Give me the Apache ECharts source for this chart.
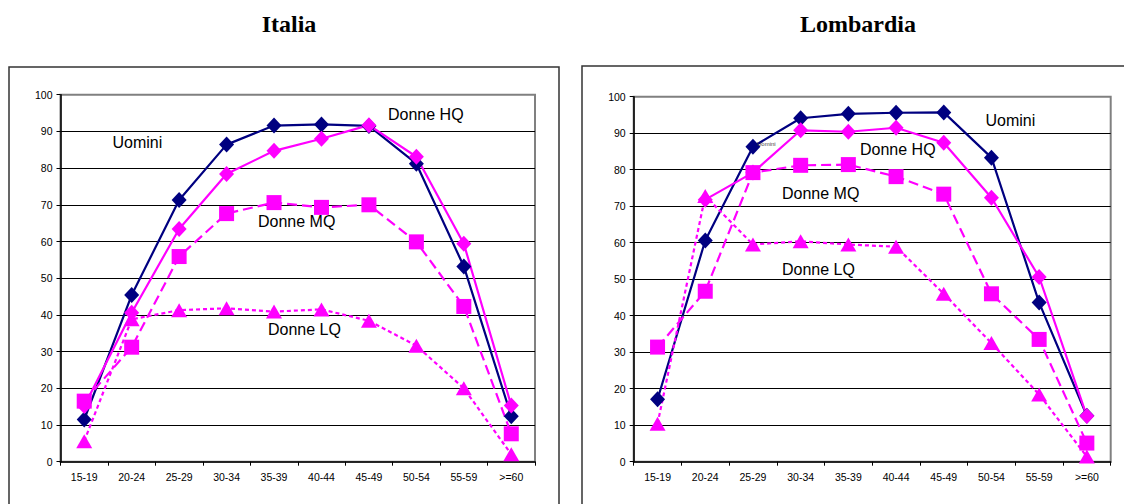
<!DOCTYPE html>
<html>
<head>
<meta charset="utf-8">
<script src="https://cdn.jsdelivr.net/npm/echarts@6/dist/echarts.min.js"></script>
<style>
  html, body { margin: 0; padding: 0; background: #fff; }
  #chart { width: 1124px; height: 504px; }
</style>
</head>
<body>
<div id="chart"></div>
<script>
// Age classes on the horizontal axis
const categories = ['15-19', '20-24', '25-29', '30-34', '35-39', '40-44', '45-49', '50-54', '55-59', '>=60'];

// Italia (%)
const italiaUomini = [11.5, 45.4, 71.3, 86.4, 91.6, 91.9, 91.5, 81.2, 53.2, 12.4];
const italiaDonneHQ = [15.2, 40.6, 63.4, 78.4, 84.7, 88.0, 91.7, 83.1, 59.4, 15.3];
const italiaDonneMQ = [16.5, 31.2, 55.9, 67.6, 70.6, 69.3, 70.0, 59.9, 42.3, 7.6];
const italiaDonneLQ = [5.6, 38.8, 41.3, 41.8, 40.9, 41.5, 38.4, 31.6, 20.0, 2.0];

// Lombardia (%)
const lombardiaUomini = [17.1, 60.6, 86.3, 94.1, 95.3, 95.6, 95.7, 83.3, 43.6, 12.6];
const lombardiaDonneHQ = [null, 71.8, 79.2, 90.8, 90.4, 91.5, 87.4, 72.3, 50.6, 12.5];
const lombardiaDonneMQ = [31.4, 46.7, 79.2, 81.2, 81.4, 78.1, 73.3, 46.0, 33.5, 5.1];
const lombardiaDonneLQ = [10.4, 72.8, 59.5, 60.4, 59.5, 58.9, 46.0, 32.5, 18.4, 1.4];

// Value axis ticks
const yMin = 0, yMax = 100, yStep = 10;

const NAVY = '#000080';
const MAGENTA = '#FF00FF';
const SANS = 'Liberation Sans, Arial, sans-serif';
const SERIF = 'Liberation Serif, Times New Roman, serif';

function xAxisFor(gridIndex) {
  return {
    type: 'category', gridIndex, data: categories, boundaryGap: true,
    axisLine: { show: true, lineStyle: { color: '#000', width: 1.5 } },
    axisTick: { show: true, length: 4, lineStyle: { color: '#000', width: 1 } },
    axisLabel: { color: '#000', fontSize: 10.5, fontFamily: SANS, margin: 10, interval: 0 },
    splitLine: { show: false }
  };
}
function yAxisFor(gridIndex) {
  return {
    type: 'value', gridIndex, min: yMin, max: yMax, interval: yStep,
    axisLine: { show: true, lineStyle: { color: '#000', width: 1.5 } },
    axisTick: { show: true, length: 4, lineStyle: { color: '#000', width: 1 } },
    axisLabel: { color: '#000', fontSize: 10.5, fontFamily: SANS, margin: 8 },
    splitLine: { show: true, showMinLine: false, showMaxLine: false, lineStyle: { color: '#000', width: 1 } }
  };
}

function lineSeries(name, data, idx, color, lineType, symbol, symbolSize) {
  return {
    name, type: 'line', data, xAxisIndex: idx, yAxisIndex: idx,
    symbol, symbolSize, showAllSymbol: true, connectNulls: false,
    lineStyle: { color, width: 2.2, type: lineType },
    itemStyle: { color, borderWidth: 0 },
    emphasis: { disabled: true }
  };
}

function seriesFor(idx, uomini, hq, mq, lq) {
  return [
    lineSeries('Uomini', uomini, idx, NAVY, 'solid', 'diamond', [15, 16]),
    lineSeries('Donne HQ', hq, idx, MAGENTA, 'solid', 'diamond', [15, 16]),
    lineSeries('Donne MQ', mq, idx, MAGENTA, [10, 5], 'rect', 15),
    lineSeries('Donne LQ', lq, idx, MAGENTA, [4, 3], 'triangle', [16, 14])
  ];
}

function label(text, x, y, size, color) {
  return {
    type: 'text', x, y, z: 100,
    style: { text, fill: color || '#000', font: (size || 16) + 'px ' + SANS, textVerticalAlign: 'middle' }
  };
}

const chart = echarts.init(document.getElementById('chart'), null, { renderer: 'svg' });

chart.setOption({
  animation: false,
  backgroundColor: '#fff',
  grid: [
    { left: 60.5, top: 94.7, width: 474.5, height: 367, show: true, borderColor: '#808080', borderWidth: 2, backgroundColor: 'transparent' },
    { left: 633.7, top: 96.7, width: 477, height: 365, show: true, borderColor: '#808080', borderWidth: 2, backgroundColor: 'transparent' }
  ],
  xAxis: [xAxisFor(0), xAxisFor(1)],
  yAxis: [yAxisFor(0), yAxisFor(1)],
  series: [
    ...seriesFor(0, italiaUomini, italiaDonneHQ, italiaDonneMQ, italiaDonneLQ),
    ...seriesFor(1, lombardiaUomini, lombardiaDonneHQ, lombardiaDonneMQ, lombardiaDonneLQ)
  ],
  graphic: [
    // chart frames
    { type: 'rect', shape: { x: 9, y: 67, width: 550, height: 500 }, style: { fill: 'none', stroke: '#333', lineWidth: 1.5 }, z: -1 },
    { type: 'rect', shape: { x: 582, y: 66, width: 600, height: 500 }, style: { fill: 'none', stroke: '#333', lineWidth: 1.5 }, z: -1 },
    // titles
    { type: 'text', x: 289, y: 24, z: 100, style: { text: 'Italia', fill: '#000', font: 'bold 24px ' + SERIF, textAlign: 'center', textVerticalAlign: 'middle' } },
    { type: 'text', x: 858, y: 24, z: 100, style: { text: 'Lombardia', fill: '#000', font: 'bold 24px ' + SERIF, textAlign: 'center', textVerticalAlign: 'middle' } },
    // series labels, Italia
    label('Uomini', 112.5, 142),
    label('Donne HQ', 388, 114),
    label('Donne MQ', 258, 221),
    label('Donne LQ', 268, 329),
    // series labels, Lombardia
    label('Uomini', 985.5, 120),
    label('Donne HQ', 860, 149),
    label('Donne MQ', 782, 193),
    label('Donne LQ', 782, 269),
    label('Uomini', 757, 143.5, 6, '#444')
  ]
});
</script>
</body>
</html>
